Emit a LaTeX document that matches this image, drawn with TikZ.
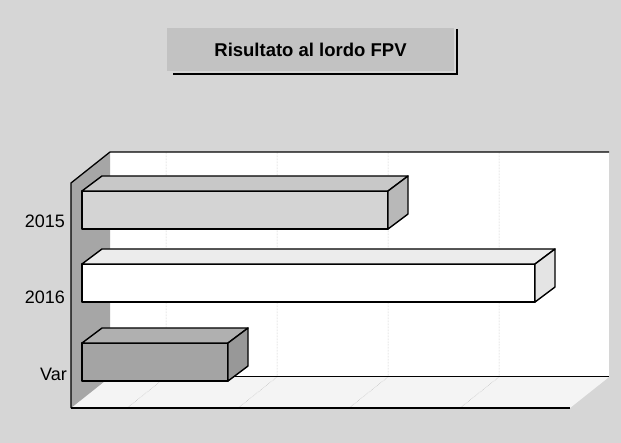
\documentclass[tikz,border=0pt]{standalone}
\usepackage{fontspec}
\setmainfont{Liberation Sans}
\definecolor{sfondo}{RGB}{214,214,214}
\definecolor{titolofill}{RGB}{194,194,194}
\definecolor{paretesx}{RGB}{166,166,166}
\definecolor{pavimento}{RGB}{244,244,244}
\definecolor{grigioA}{RGB}{212,212,212}
\definecolor{grigioAtop}{RGB}{200,200,200}
\definecolor{grigioAside}{RGB}{184,184,184}
\definecolor{biancoB}{RGB}{255,255,255}
\definecolor{biancoBtop}{RGB}{236,236,236}
\definecolor{biancoBside}{RGB}{228,228,228}
\definecolor{grigioC}{RGB}{164,164,164}
\definecolor{grigioCtop}{RGB}{176,176,176}
\definecolor{grigioCside}{RGB}{152,152,152}
\tikzset{
	barra/.style={draw=black, line width=1.4pt, line join=round},
	griglia/.style={gray!55, densely dotted, line width=0.5pt},
	etichetta/.style={font=\fontsize{18}{21}\selectfont, anchor=east, inner sep=0pt},
}

\begin{document}
\begin{tikzpicture}[x=1pt, y=-1pt]
		% background of the page
		\useasboundingbox (0,0) rectangle (621,443);
		\fill[sfondo] (0,0) rectangle (621,443);
		% title box with shadow
		\node[fill=titolofill, minimum width=287pt, minimum height=43pt, inner sep=0pt,
			font=\fontsize{18.5}{21}\selectfont\bfseries] (titolo) at (310.5,49.5) {Risultato al lordo FPV};
		\draw[line width=1.6pt] ([xshift=3pt,yshift=-1pt]titolo.north east) -- ([xshift=3pt,yshift=-3pt]titolo.south east) -- ([xshift=6pt,yshift=-3pt]titolo.south west);
		% walls and floor of the chart
		\fill[white] (110,152) rectangle (609,377);
		\fill[pavimento] (71,408) -- (110,377) -- (609,377) -- (570,408) -- cycle;
		\fill[paretesx] (71,183) -- (110,152) -- (110,377) -- (71,408) -- cycle;
		% grid lines
		\foreach \x in {166,277,388,499}
		{
			\draw[griglia] (\x,152) -- (\x,377) -- (\x-39,408);
		}
		% outlines of the walls
		\draw[line width=1.3pt] (71,408) -- (71,183) -- (110,152) -- (609,152);
		\draw[line width=1pt] (110,377) -- (609,377);
		\draw[line width=1.3pt] (71,408) -- (570,408);
		% bars: top of front face / right end / colours
		\foreach \y/\r/\cf/\ct/\cs in {191/388/grigioA/grigioAtop/grigioAside, 264/535/biancoB/biancoBtop/biancoBside, 343/228/grigioC/grigioCtop/grigioCside}
		{
			\draw[barra, fill=\cf] (82,\y) rectangle (\r,\y+38);
			\draw[barra, fill=\ct] (82,\y) -- (102,\y-15) -- (\r+20,\y-15) -- (\r,\y) -- cycle;
			\draw[barra, fill=\cs] (\r,\y) -- (\r+20,\y-15) -- (\r+20,\y+23) -- (\r,\y+38) -- cycle;
		}
		% category labels
		\node[etichetta] (l2015) at (65,221) {2015};
		\node[etichetta] (l2016) at (65,297) {2016};
		\node[etichetta] (lvar) at (67,374) {Var};
	\end{tikzpicture}
\end{document}
